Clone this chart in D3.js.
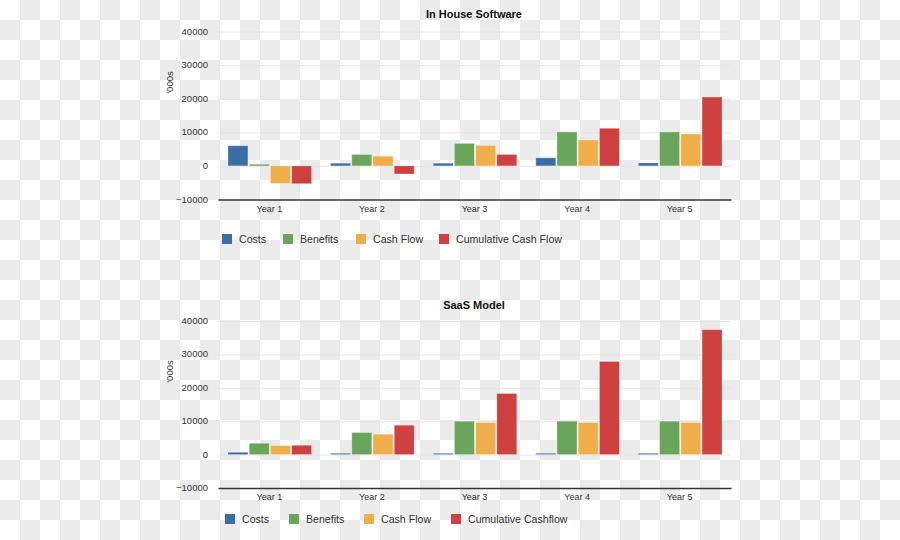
<!DOCTYPE html>
<html><head><meta charset="utf-8">
<script src="https://cdn.jsdelivr.net/npm/d3@7/dist/d3.min.js"></script>
<style>body{margin:0;padding:0;}svg{display:block;font-family:"Liberation Sans",Arial,Helvetica,sans-serif;}</style>
</head><body>
<svg id="c" width="900" height="540"></svg>
<script>
const years = ["Year 1","Year 2","Year 3","Year 4","Year 5"];
const yTicks = [-10000,0,10000,20000,30000,40000];
const seriesColors = ["#3a6ea5","#69a55a","#f0ae4b","#cf4141"];

const inHouseTitle = "In House Software";
const inHouseSeries = ["Costs","Benefits","Cash Flow","Cumulative Cash Flow"];
const inHouseCosts = [6000, 800, 800, 2400, 900];
const inHouseBenefits = [500, 3400, 6700, 10100, 10100];
const inHouseCashFlow = [-5200, 2900, 6100, 7700, 9500];
const inHouseCumulative = [-5300, -2400, 3400, 11200, 20500];

const saasTitle = "SaaS Model";
const saasSeries = ["Costs","Benefits","Cash Flow","Cumulative Cashflow"];
const saasCosts = [700, 400, 400, 400, 400];
const saasBenefits = [3400, 6600, 10000, 10000, 10000];
const saasCashFlow = [2700, 6100, 9600, 9600, 9600];
const saasCumulative = [2800, 8800, 18300, 27900, 37400];

const svg = d3.select("#c");

// checkerboard background
const defs = svg.append("defs");
const pat = defs.append("pattern").attr("id","chk").attr("patternUnits","userSpaceOnUse")
  .attr("width",40).attr("height",40);
pat.append("rect").attr("width",40).attr("height",40).attr("fill","#ffffff");
pat.append("rect").attr("x",20).attr("y",0).attr("width",20).attr("height",20).attr("fill","#ebebeb");
pat.append("rect").attr("x",0).attr("y",20).attr("width",20).attr("height",20).attr("fill","#ebebeb");
svg.append("rect").attr("width",900).attr("height",540).attr("fill","url(#chk)");

function drawChart(cfg){
  const {title, names, values, top, bottom, titleY, legendY, legendX} = cfg;
  const g = svg.append("g");
  const x = d3.scaleBand().domain(years).range([218, 731]);
  const y = d3.scaleLinear().domain([-10000, 40000]).range([bottom, top]);
  const inner = d3.scaleBand().domain(d3.range(names.length))
    .range([10, x.bandwidth()-9]).paddingInner(0.06);

  // grid
  g.append("g").selectAll("line").data(yTicks.slice(1)).join("line")
    .attr("x1",218).attr("x2",731).attr("y1",d=>y(d)+0.5).attr("y2",d=>y(d)+0.5)
    .attr("stroke","#e4e4e4").attr("stroke-width",1).attr("opacity",0.8);

  // y axis labels
  const ya = g.append("g").attr("transform","translate(208,-0.5)")
    .call(d3.axisLeft(y).tickValues(yTicks).tickSize(0).tickPadding(0).tickFormat(d3.format("d")));
  ya.select(".domain").remove();
  ya.selectAll("text").attr("font-size",9.5).attr("fill","#333").attr("font-family","Liberation Sans, Arial, sans-serif");

  // y title
  g.append("text").attr("transform",`translate(173,${(top+bottom)/2 - 33}) rotate(-90)`)
    .attr("text-anchor","middle").attr("font-size",9.5).attr("fill","#333").text("'000s");

  // title
  g.append("text").attr("x",474).attr("y",titleY).attr("text-anchor","middle")
    .attr("font-size",11).attr("font-weight","bold").attr("fill","#111").text(title);

  // bars
  years.forEach((yr,i)=>{
    values.forEach((arr,s)=>{
      const v = arr[i];
      g.append("rect")
        .attr("x", x(yr)+inner(s)).attr("width", inner.bandwidth())
        .attr("y", y(Math.max(0,v))).attr("height", Math.max(1, Math.abs(y(v)-y(0))))
        .attr("fill", seriesColors[s]).attr("stroke","#ffffff").attr("stroke-opacity",0.35).attr("stroke-width",0.8);
    });
  });

  // x axis
  const xa = g.append("g").attr("transform",`translate(0,${bottom})`)
    .call(d3.axisBottom(x).tickSize(0).tickPadding(6));
  xa.select(".domain").attr("stroke","#333").attr("stroke-width",1.5);
  xa.selectAll("text").attr("font-size",9).attr("fill","#333").attr("font-family","Liberation Sans, Arial, sans-serif");

  // legend
  const lg = g.append("g").attr("transform",`translate(0,${legendY})`);
  names.forEach((n,s)=>{
    lg.append("rect").attr("x",legendX[s]).attr("y",-5).attr("width",10).attr("height",10).attr("fill",seriesColors[s]);
    lg.append("text").attr("x",legendX[s]+17).attr("y",4).attr("font-size",10.6).attr("fill","#333").text(n);
  });
}

drawChart({title: inHouseTitle, names: inHouseSeries,
  values:[inHouseCosts,inHouseBenefits,inHouseCashFlow,inHouseCumulative],
  top:31.5, bottom:199.5, titleY:18, legendY:239, legendX:[222,283,356,439]});
drawChart({title: saasTitle, names: saasSeries,
  values:[saasCosts,saasBenefits,saasCashFlow,saasCumulative],
  top:321, bottom:488, titleY:309, legendY:519, legendX:[225,289,364,451]});
</script>
</body></html>
